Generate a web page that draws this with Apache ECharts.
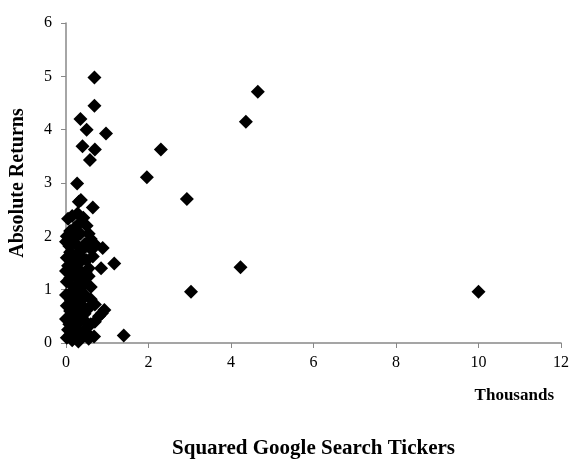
<!DOCTYPE html>
<html>
<head>
<meta charset="utf-8">
<script src="https://cdn.jsdelivr.net/npm/echarts@6/dist/echarts.min.js"></script>
<style>html,body{margin:0;padding:0;background:#fff}#c{width:573px;height:472px}</style>
</head>
<body>
<div id="c"></div>
<script>
// Squared Google Search Tickers (thousands) vs Absolute Returns
const outlierX = [0.69,0.69,0.35,0.50,0.97,0.40,0.70,0.58,0.27,2.30,1.96,4.65,4.36,2.93,4.23,3.03,10.0,1.40,1.17,0.85,0.89,0.93,0.36,0.65,0.31,0.80];
const outlierY = [4.98,4.45,4.20,4.00,3.93,3.69,3.63,3.43,2.99,3.63,3.11,4.71,4.15,2.70,1.42,0.96,0.96,0.14,1.49,1.40,1.78,0.62,2.68,2.54,2.65,0.50];
const clusterX = [0.05,0.15,0.28,0.42,0.50, 0.02,0.10,0.20,0.35,0.55,0.60, 0.00,0.08,0.18,0.30,0.45,0.62,0.70,
  0.02,0.10,0.25,0.40,0.50,0.65, 0.00,0.05,0.15,0.28,0.38,0.55, 0.02,0.10,0.20,0.30,0.45,0.55,0.60,
  0.00,0.12,0.25,0.35,0.48,0.60, 0.02,0.10,0.20,0.30,0.40,0.55,0.70,0.87, 0.00,0.08,0.18,0.30,0.45,0.60,0.70,
  0.02,0.05,0.15,0.22,0.35,0.45,0.55,0.68,0.10,0.30,
  0.20,0.40,0.32,0.15,0.48,0.25,0.38,0.12,0.45,0.22,0.52,0.33];
const clusterY = [2.33,2.38,2.43,2.35,2.20, 2.00,2.10,2.15,2.05,2.05,1.95, 1.90,1.82,1.90,1.80,1.85,1.75,1.85,
  1.60,1.70,1.65,1.60,1.55,1.62, 1.35,1.45,1.50,1.40,1.30,1.40, 1.15,1.22,1.05,1.20,1.10,1.25,1.05,
  0.90,0.95,0.85,0.98,0.88,0.82, 0.70,0.60,0.75,0.55,0.70,0.65,0.72,0.56, 0.45,0.35,0.48,0.38,0.42,0.35,0.40,
  0.10,0.25,0.05,0.20,0.12,0.25,0.08,0.12,0.15,0.03,
  1.95,1.75,1.50,1.28,1.33,0.62,0.85,0.80,0.55,0.30,0.18,2.25];
const xTicks = {min:0, max:12, interval:2};
const yTicks = {min:0, max:6, interval:1};

const pts = [];
outlierX.forEach((x,i)=>pts.push([x,outlierY[i]]));
clusterX.forEach((x,i)=>pts.push([x,clusterY[i]]));

const serif = '"Liberation Serif", "DejaVu Serif", serif';
const axisCol = '#888888';
const chart = echarts.init(document.getElementById('c'));
chart.setOption({
  animation:false,
  grid:{left:65, right:12, top:23, bottom:129},
  xAxis:{type:'value', min:xTicks.min, max:xTicks.max, interval:xTicks.interval,
    name:'Squared Google Search Tickers', nameLocation:'middle', nameGap:95,
    nameTextStyle:{fontFamily:serif, fontWeight:'bold', fontSize:21, color:'#000'},
    axisLine:{show:true, onZero:false, lineStyle:{color:axisCol, width:1.5}},
    axisTick:{show:true, length:5, lineStyle:{color:axisCol}},
    splitLine:{show:false},
    axisLabel:{fontFamily:serif, fontSize:16, color:'#000', margin:12}},
  yAxis:{type:'value', min:yTicks.min, max:yTicks.max, interval:yTicks.interval,
    name:'Absolute Returns', nameLocation:'middle', nameGap:38,
    nameTextStyle:{fontFamily:serif, fontWeight:'bold', fontSize:20, color:'#000'},
    axisLine:{show:true, lineStyle:{color:axisCol, width:1.5}},
    axisTick:{show:true, length:5, lineStyle:{color:axisCol}},
    splitLine:{show:false},
    axisLabel:{fontFamily:serif, fontSize:16, color:'#000', margin:14}},
  graphic:[{type:'text', right:19, top:387, style:{text:'Thousands', font:'bold 17px '+serif, fill:'#000'}}],
  series:[{type:'scatter', data:pts, symbol:'diamond', symbolSize:14,
    itemStyle:{color:'#000', opacity:1}}]
});
</script>
</body>
</html>
